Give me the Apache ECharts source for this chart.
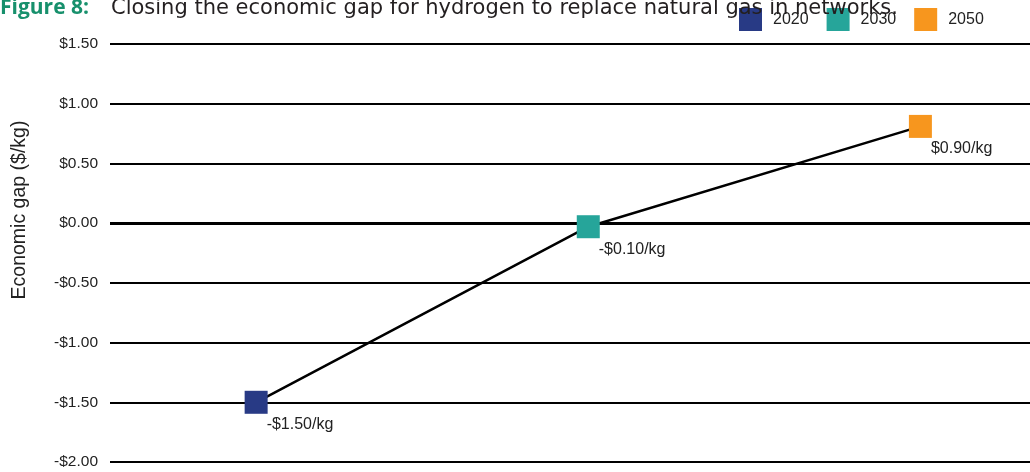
<!DOCTYPE html>
<html>
<head>
<meta charset="utf-8">
<script src="https://cdn.jsdelivr.net/npm/echarts@6/dist/echarts.min.js"></script>
<style>
  html, body { margin: 0; padding: 0; background: #fff; }
  #chart { width: 1030px; height: 472px; }
</style>
</head>
<body>
<div id="chart"></div>
<script>
// ****** data ******
var years = ['2020', '2030', '2050'];
var xPos = [0, 1, 2];                 // year slots along the hidden x axis
var gapValues = [-1.50, -0.03, 0.81]; // plotted positions ($/kg)
var gapLabels = ['-$1.50/kg', '-$0.10/kg', '$0.90/kg'];
var colors = ['#283a85', '#26a59a', '#f7961e'];
var yTicks = { min: -2, max: 1.5, interval: 0.5 };

var chart = echarts.init(document.getElementById('chart'));
var ARIAL = 'Liberation Sans, Arial, sans-serif';

function money(v) {
    var s = '$' + Math.abs(v).toFixed(2);
    return v < 0 ? '-' + s : s;
}

// point series, one per year (gives legend colours)
var pointSeries = years.map(function (y, i) {
    return {
        name: y,
        type: 'scatter',
        symbol: 'rect',
        symbolSize: 23,
        z: 5,
        itemStyle: { color: colors[i], opacity: 1 },
        label: {
            show: true,
            position: [22, 34],
            align: 'left',
            verticalAlign: 'middle',
            fontFamily: ARIAL,
            fontSize: 16,
            color: '#222',
            formatter: function () { return gapLabels[i]; }
        },
        data: [[xPos[i], gapValues[i]]]
    };
});

var option = {
    animation: false,
    title: {
        left: 0,
        top: -2,
        padding: 0,
        text: '{a|Figure 8:}{b|Closing the economic gap for hydrogen to replace natural gas in networks.}',
        textStyle: {
            rich: {
                a: { fontFamily: 'Open Sans', fontWeight: 'bold', fontSize: 21, color: '#17906c', padding: [0, 22, 0, 0] },
                b: { fontFamily: 'DejaVu Sans', fontWeight: 'normal', fontSize: 21, color: '#231f20' }
            }
        }
    },
    legend: {
        left: 734,
        top: 3,
        itemWidth: 23,
        itemHeight: 23,
        itemGap: 18,
        icon: 'rect',
        itemStyle: { opacity: 1 },
        textStyle: { fontFamily: ARIAL, fontSize: 16, color: '#222', padding: [0, 0, 0, 6] },
        data: years
    },
    grid: { left: 110, right: 0, top: 44, bottom: 10, containLabel: false, outerBoundsMode: 'none' },
    xAxis: {
        type: 'value',
        min: -0.44,
        max: 2.33,
        show: false
    },
    yAxis: {
        type: 'value',
        min: yTicks.min,
        max: yTicks.max,
        interval: yTicks.interval,
        name: 'Economic gap ($/kg)',
        nameLocation: 'middle',
        nameGap: 80,
        nameTextStyle: { fontFamily: ARIAL, fontSize: 19.5, color: '#222', padding: [0, 0, 0, 86] },
        axisLine: { show: false },
        axisTick: { show: false },
        axisLabel: {
            margin: 12,
            fontFamily: ARIAL,
            fontSize: 15.5,
            color: '#222',
            formatter: money
        },
        splitLine: { show: true, lineStyle: { color: '#000', width: 2 } }
    },
    series: [{
        name: 'gap',
        type: 'line',
        symbol: 'none',
        z: 3,
        lineStyle: { color: '#000', width: 2.5 },
        data: xPos.map(function (x, i) { return [x, gapValues[i]]; }),
        markLine: {
            silent: true,
            symbol: 'none',
            label: { show: false },
            lineStyle: { color: '#000', width: 3, type: 'solid' },
            data: [{ yAxis: 0 }]
        }
    }].concat(pointSeries)
};

chart.setOption(option);
</script>
</body>
</html>
